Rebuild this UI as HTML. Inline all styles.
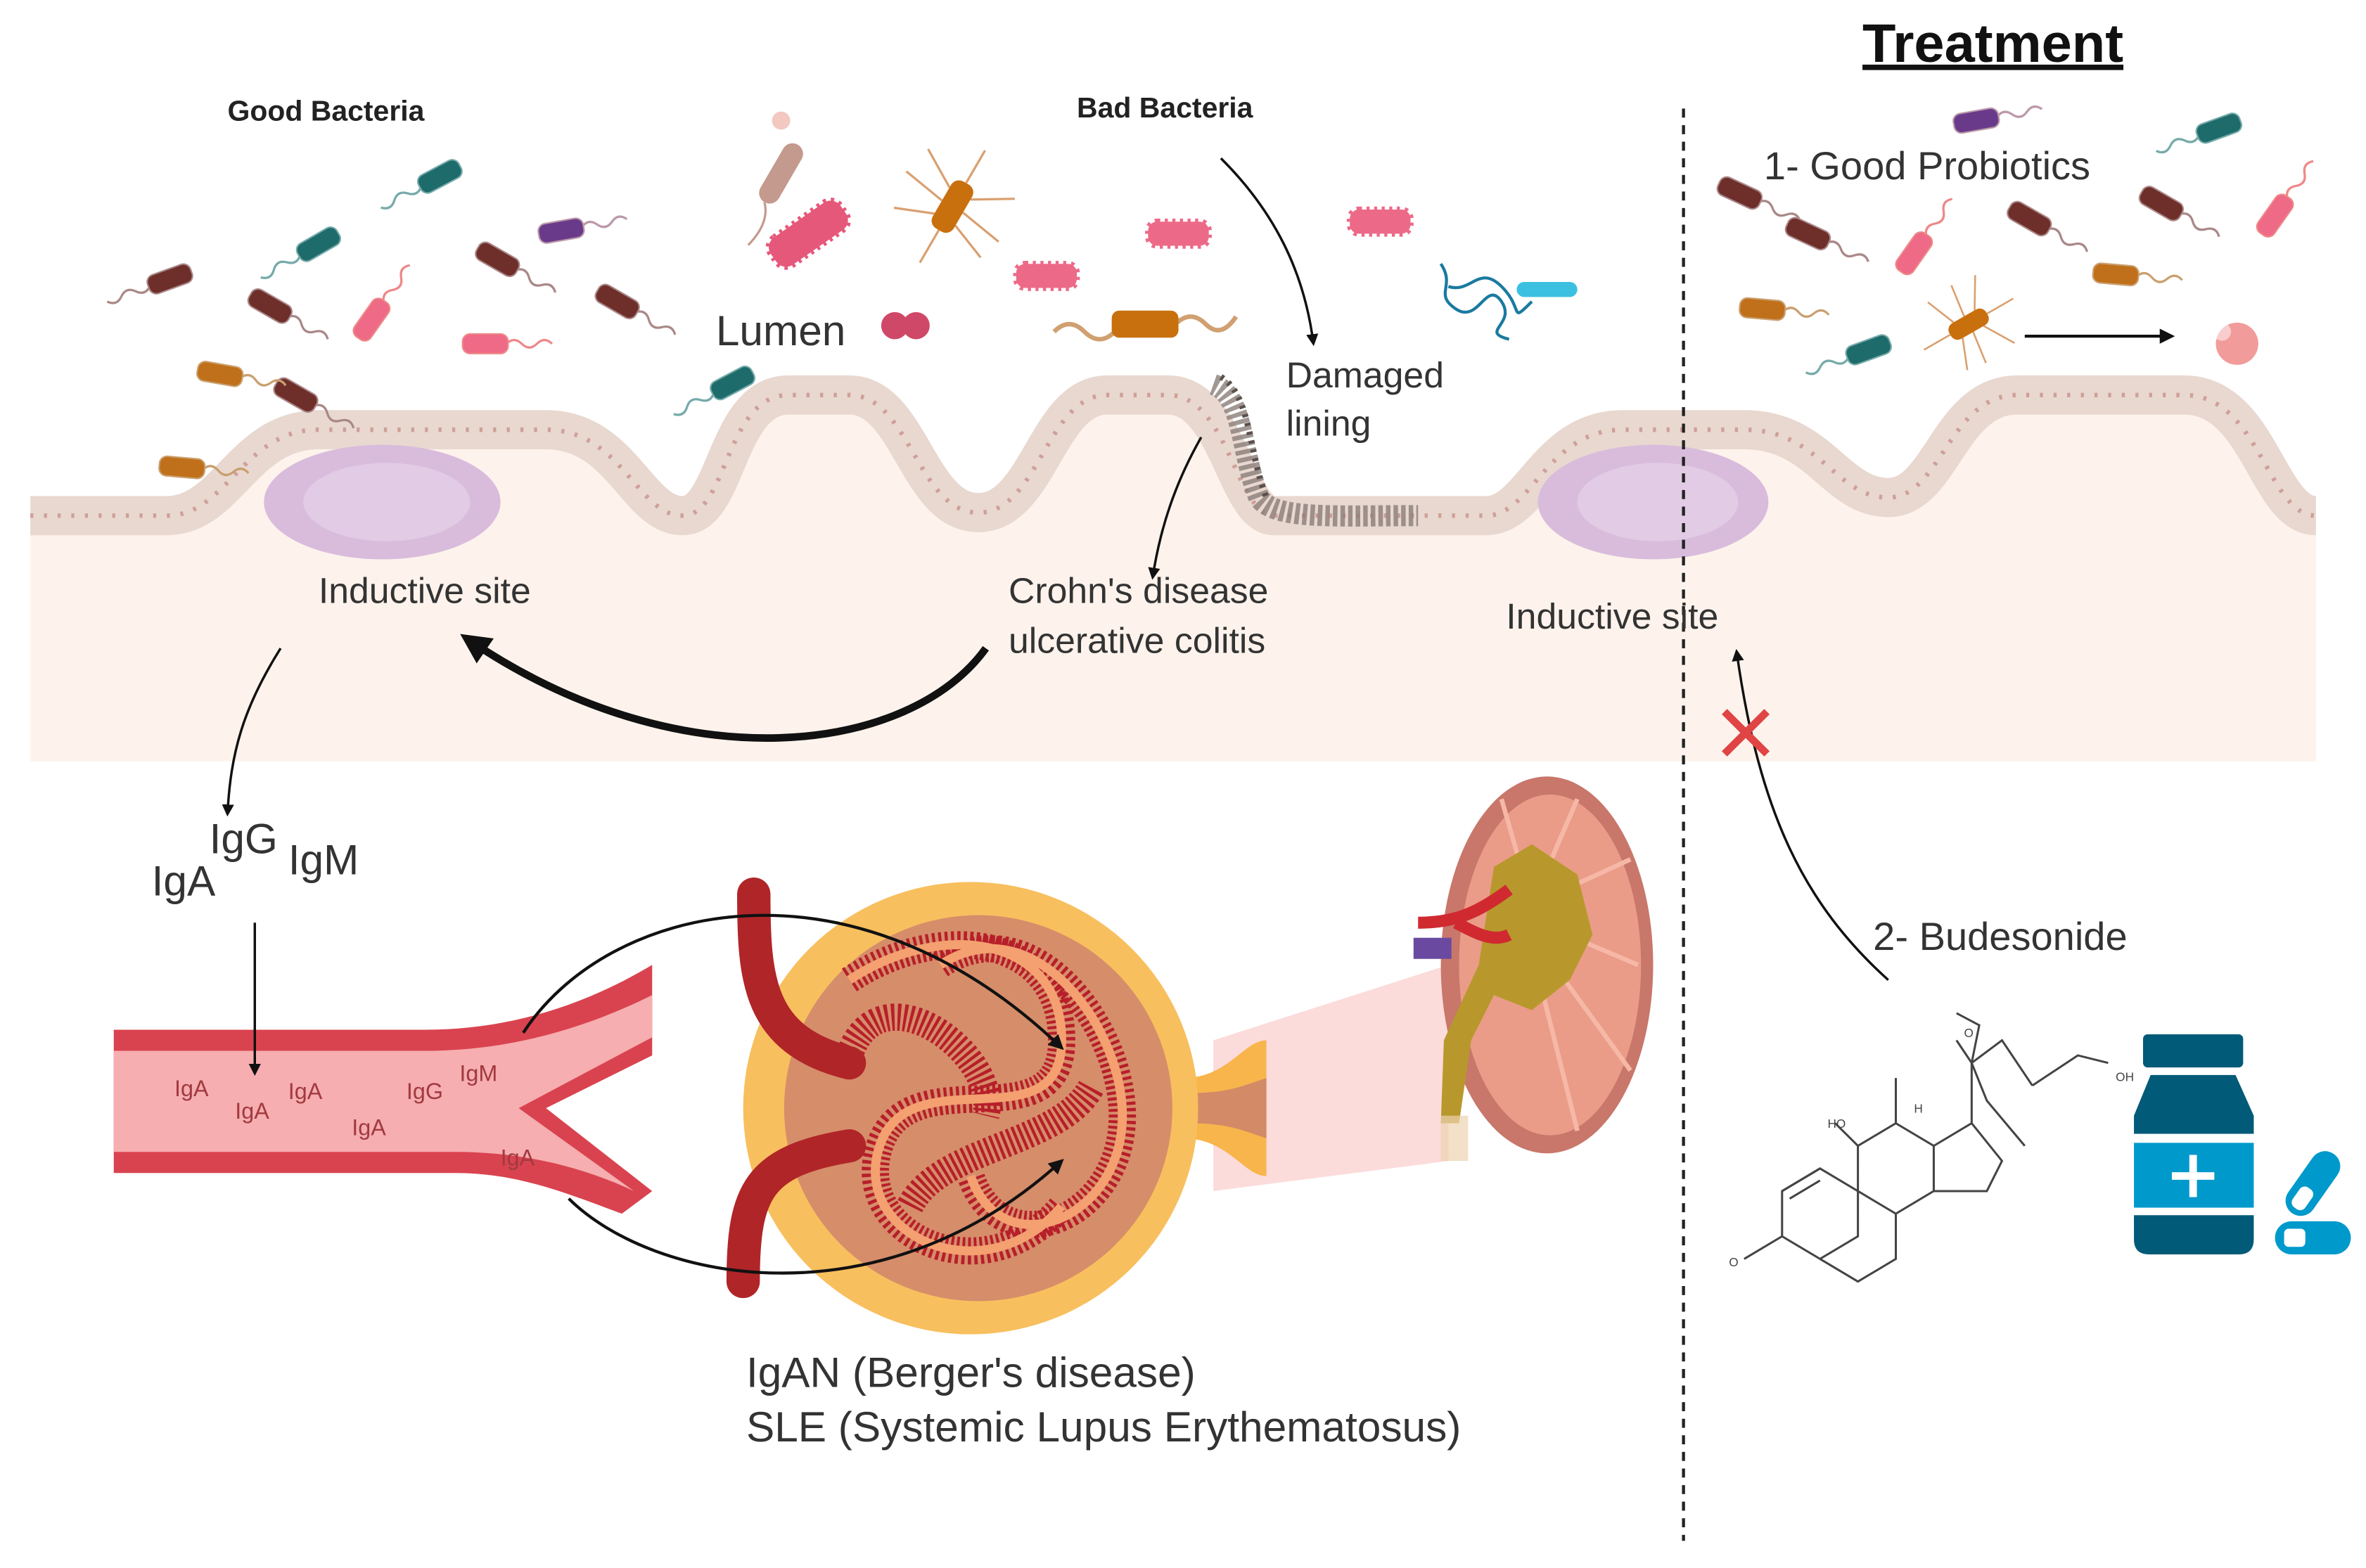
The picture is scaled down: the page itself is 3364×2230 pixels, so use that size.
<!DOCTYPE html>
<html><head><meta charset="utf-8"><style>
html,body{margin:0;padding:0;background:#fff;}
svg{display:block;}
text{font-family:"Liberation Sans",sans-serif;}
</style></head><body>
<svg width="3364" height="2230" viewBox="0 0 1560 1040" preserveAspectRatio="none" xmlns="http://www.w3.org/2000/svg">
<defs>
<marker id="ah" viewBox="0 0 10 10" refX="8" refY="5" markerWidth="5" markerHeight="5" orient="auto-start-reverse"><path d="M0,0 L10,5 L0,10 Z" fill="#111"/></marker>
<marker id="ahb" viewBox="0 0 10 10" refX="6" refY="5" markerWidth="4" markerHeight="4" orient="auto"><path d="M0,0 L10,5 L0,10 Z" fill="#111"/></marker>
<g id="bac"><path d="M14,0 q5,-5 10,0 t10,0 t10,0" fill="none" stroke-width="1.5"/><rect x="-15" y="-6.5" width="30" height="13" rx="5"/></g>
</defs>
<rect width="1560" height="1040" fill="#fff"/>

<!-- tissue -->
<path d="M20,342 H110 C150,342 160,285 210,285 H360 C410,285 420,342 450,342 C480,342 478,262 520,262 H560 C600,262 605,340 645,340 C685,340 690,262 730,262 H770 C810,262 815,342 840,342 H980 C1010,342 1020,285 1070,285 H1150 C1200,285 1210,330 1245,330 C1280,330 1285,262 1330,262 H1440 C1490,262 1495,342 1527,342 L1527,505 L20,505 Z" fill="#fdf3ec"/>
<path d="M20,342 H110 C150,342 160,285 210,285 H360 C410,285 420,342 450,342 C480,342 478,262 520,262 H560 C600,262 605,340 645,340 C685,340 690,262 730,262 H770 C810,262 815,342 840,342 H980 C1010,342 1020,285 1070,285 H1150 C1200,285 1210,330 1245,330 C1280,330 1285,262 1330,262 H1440 C1490,262 1495,342 1527,342" fill="none" stroke="#e8d8d0" stroke-width="26"/>
<path d="M20,342 H110 C150,342 160,285 210,285 H360 C410,285 420,342 450,342 C480,342 478,262 520,262 H560 C600,262 605,340 645,340 C685,340 690,262 730,262 H770 C810,262 815,342 840,342 H980 C1010,342 1020,285 1070,285 H1150 C1200,285 1210,330 1245,330 C1280,330 1285,262 1330,262 H1440 C1490,262 1495,342 1527,342" fill="none" stroke="#cf9f98" stroke-width="3" stroke-dasharray="2 7"/>
<!-- damaged -->
<path d="M800,255 C820,262 818,300 830,330 C840,345 880,342 935,342" fill="none" stroke="#8a7d78" stroke-width="14" stroke-dasharray="3 2" opacity="0.8"/>
<path d="M805,250 C825,262 823,300 835,330" fill="none" stroke="#5a504c" stroke-width="4" stroke-dasharray="2 4"/>
<!-- inductive sites -->
<ellipse cx="252" cy="333" rx="78" ry="38" fill="#d9bcdc"/><ellipse cx="255" cy="333" rx="55" ry="26" fill="#e2cbe4"/>
<ellipse cx="1090" cy="333" rx="76" ry="38" fill="#d9bcdc"/><ellipse cx="1093" cy="333" rx="53" ry="26" fill="#e2cbe4"/>

<!-- good bacteria -->
<g stroke="#7aa" fill="#1e6b6b"><use href="#bac" transform="translate(290,117) rotate(152)"/><use href="#bac" transform="translate(210,162) rotate(150)"/><use href="#bac" transform="translate(483,254) rotate(152)"/></g>
<g stroke="#a88" fill="#6e2e2a"><use href="#bac" transform="translate(112,185) rotate(160)"/><use href="#bac" transform="translate(178,203) rotate(30)"/><use href="#bac" transform="translate(328,172) rotate(30)"/><use href="#bac" transform="translate(407,200) rotate(30)"/><use href="#bac" transform="translate(195,262) rotate(30)"/></g>
<g stroke="#e88" fill="#ee6a86"><use href="#bac" transform="translate(245,212) rotate(-55)"/><use href="#bac" transform="translate(320,228) rotate(0)"/></g>
<g stroke="#b9a" fill="#6a3a8a"><use href="#bac" transform="translate(370,153) rotate(-10)"/></g>
<g stroke="#c9a070" fill="#c0701a"><use href="#bac" transform="translate(145,248) rotate(10)"/><use href="#bac" transform="translate(120,310) rotate(5)"/></g>

<!-- bad bacteria -->
<g transform="translate(533,155) rotate(-35)"><rect x="-28" y="-11" width="56" height="22" rx="8" fill="#e6587a" stroke="#e6587a" stroke-width="4" stroke-dasharray="2 3"/></g>
<g transform="translate(690,183)"><rect x="-20" y="-8" width="40" height="16" rx="6" fill="#ec6a88" stroke="#ec6a88" stroke-width="4" stroke-dasharray="2 3"/></g>
<g transform="translate(777,155)"><rect x="-20" y="-8" width="40" height="16" rx="6" fill="#ec6a88" stroke="#ec6a88" stroke-width="4" stroke-dasharray="2 3"/></g>
<g transform="translate(910,147)"><rect x="-20" y="-8" width="40" height="16" rx="6" fill="#ec6a88" stroke="#ec6a88" stroke-width="4" stroke-dasharray="2 3"/></g>
<g transform="translate(628,137) rotate(-60)" stroke="#d9a070" stroke-width="1.5" fill="none"><path d="M-10,-8 l-10,-25 M0,-8 l5,-30 M10,-8 l15,-25 M-10,8 l-10,25 M0,8 l-5,30 M10,8 l15,25 M-18,0 h-25 M18,0 h25"/><rect x="-18" y="-8" width="36" height="16" rx="6" fill="#c8700e" stroke="none"/></g>
<g transform="translate(515,115) rotate(-60)"><rect x="-22" y="-7" width="44" height="14" rx="7" fill="#c49a8e"/><path d="M-22,0 q-10,10 -30,5" stroke="#c49a8e" fill="none" stroke-width="1.5"/></g>
<circle cx="515" cy="80" r="6" fill="#f2c8c0"/>
<g transform="translate(755,215)"><path d="M-60,5 q10,-10 20,0 t20,0 M20,0 q10,-10 20,0 t20,-5" stroke="#d0a070" fill="none" stroke-width="3"/><rect x="-22" y="-9" width="44" height="18" rx="5" fill="#c8700e"/></g>
<g fill="#d04868"><circle cx="590" cy="216" r="9"/><circle cx="604" cy="216" r="9"/></g>
<g transform="translate(990,200)" stroke="#1a7aa0" stroke-width="2" fill="none"><path d="M-40,-25 c10,15 -5,20 10,30 s20,-20 30,-5 s-15,20 5,25 M-35,-10 c15,5 20,-15 35,0 s5,25 20,10"/><path d="M15,-8 h30" stroke="#3bc0e0" stroke-width="10" stroke-linecap="round"/></g>

<!-- treatment bacteria -->
<g stroke="#b9a" fill="#6a3a8a"><use href="#bac" transform="translate(1303,80) rotate(-10)"/></g>
<g stroke="#7aa" fill="#1e6b6b"><use href="#bac" transform="translate(1463,85) rotate(160)"/><use href="#bac" transform="translate(1232,232) rotate(160)"/></g>
<g stroke="#a88" fill="#6e2e2a"><use href="#bac" transform="translate(1147,128) rotate(25)"/><use href="#bac" transform="translate(1192,155) rotate(25)"/><use href="#bac" transform="translate(1338,145) rotate(30)"/><use href="#bac" transform="translate(1425,135) rotate(30)"/></g>
<g stroke="#e88" fill="#ee6a86"><use href="#bac" transform="translate(1262,168) rotate(-55)"/><use href="#bac" transform="translate(1500,143) rotate(-55)"/></g>
<g stroke="#c9a070" fill="#c0701a"><use href="#bac" transform="translate(1162,205) rotate(5)"/><use href="#bac" transform="translate(1395,182) rotate(5)"/></g>
<g transform="translate(1298,215) rotate(-30)" stroke="#d9a070" stroke-width="1.2" fill="none"><path d="M-8,-6 l-8,-20 M0,-6 l3,-22 M8,-6 l12,-20 M-8,6 l-8,20 M0,6 l-3,22 M8,6 l12,20 M-14,0 h-20 M14,0 h20"/><rect x="-14" y="-6" width="28" height="12" rx="5" fill="#c8700e" stroke="none"/></g>
<line x1="1335" y1="223" x2="1432" y2="223" stroke="#111" stroke-width="2" marker-end="url(#ah)"/>
<g fill="#f08a8a" opacity="0.85"><circle cx="1475" cy="228" r="14"/><circle cx="1465" cy="220" r="6" fill="#fff" opacity="0.5"/></g>

<!-- dashed divider -->
<line x1="1110" y1="72" x2="1110" y2="1022" stroke="#222" stroke-width="2" stroke-dasharray="6 5"/>

<!-- labels top -->
<text x="150" y="80" font-size="19" font-weight="bold" fill="#222">Good Bacteria</text>
<text x="710" y="78" font-size="19" font-weight="bold" fill="#222">Bad Bacteria</text>
<text x="1228" y="41" font-size="36" font-weight="bold" fill="#111" text-decoration="underline">Treatment</text>
<text x="1163" y="119" font-size="26" fill="#333">1- Good Probiotics</text>
<text x="472" y="229" font-size="28" fill="#333">Lumen</text>
<text x="848" y="257" font-size="24" fill="#333">Damaged</text>
<text x="848" y="289" font-size="24" fill="#333">lining</text>
<text x="210" y="400" font-size="24" fill="#333">Inductive site</text>
<text x="665" y="400" font-size="24" fill="#333">Crohn's disease</text>
<text x="665" y="433" font-size="24" fill="#333">ulcerative colitis</text>
<text x="993" y="417" font-size="24" fill="#333">Inductive site</text>
<text x="1235" y="630" font-size="26" fill="#333">2- Budesonide</text>

<!-- arrows top -->
<path d="M805,105 C840,140 860,180 866,228" fill="none" stroke="#111" stroke-width="1.6" marker-end="url(#ah)"/>
<path d="M792,290 C775,320 765,350 760,383" fill="none" stroke="#111" stroke-width="1.6" marker-end="url(#ah)"/>
<path d="M650,430 C600,500 450,520 310,425" fill="none" stroke="#111" stroke-width="5" marker-end="url(#ahb)"/>
<path d="M185,430 C160,470 152,500 150,540" fill="none" stroke="#111" stroke-width="1.6" marker-end="url(#ah)"/>
<path d="M1245,650 C1190,600 1160,540 1145,432" fill="none" stroke="#111" stroke-width="1.6" marker-end="url(#ah)"/>
<path d="M1137,472 L1165,500 M1165,472 L1137,500" stroke="#e04444" stroke-width="5"/>

<text x="100" y="594" font-size="28" fill="#333">IgA</text>
<text x="138" y="566" font-size="28" fill="#333">IgG</text>
<text x="190" y="580" font-size="28" fill="#333">IgM</text>

<!-- blood vessel -->
<path d="M75,683 L280,683 C330,683 380,670 430,640 L430,700 L360,735 L430,790 L410,805 C370,790 340,778 300,778 L75,778 Z" fill="#d9434f"/>
<path d="M75,697 L280,697 C330,697 380,685 430,660 L430,688 L342,735 L418,790 C380,772 340,764 300,764 L75,764 Z" fill="#f6aeb0"/>
<g font-size="15" fill="#a23a40"><text x="115" y="727">IgA</text><text x="155" y="742">IgA</text><text x="190" y="729">IgA</text><text x="232" y="753">IgA</text><text x="268" y="729">IgG</text><text x="303" y="717">IgM</text><text x="330" y="773">IgA</text></g>
<line x1="168" y1="612" x2="168" y2="712" stroke="#111" stroke-width="1.6" marker-end="url(#ah)"/>

<!-- glomerulus -->
<path d="M800,690 L955,640 L955,770 L800,790 Z" fill="#fbd2d2" opacity="0.8"/>
<path d="M780,715 C810,715 820,690 835,690 L835,780 C820,780 810,755 780,755 Z" fill="#f8b54c"/>
<path d="M785,725 C810,725 820,720 835,715 L835,755 C820,750 810,745 785,745 Z" fill="#d38a66"/>
<circle cx="640" cy="735" r="150" fill="#f8bf5e"/>
<circle cx="645" cy="735" r="128" fill="#d68d6a"/>
<g fill="none" stroke="#b71f2a" stroke-width="18" stroke-dasharray="2 2">
<path d="M560,650 C620,610 700,620 700,690 C700,760 600,700 580,760 C560,820 650,860 700,800"/>
<path d="M620,640 C680,600 740,680 740,740 C740,810 660,840 640,780"/>
<path d="M560,700 C580,640 660,700 650,740"/>
<path d="M600,800 C620,760 700,760 720,720"/>
</g>
<g fill="none" stroke="#f4a070" stroke-width="6"><path d="M560,650 C620,610 700,620 700,690 C700,760 600,700 580,760 C560,820 650,860 700,800"/><path d="M620,640 C680,600 740,680 740,740 C740,810 660,840 640,780"/></g>
<path d="M497,593 C497,650 500,690 560,705" fill="none" stroke="#b02528" stroke-width="22" stroke-linecap="round"/>
<path d="M490,850 C490,790 500,770 560,760" fill="none" stroke="#b02528" stroke-width="22" stroke-linecap="round"/>
<path d="M345,685 C400,600 560,560 700,695" fill="none" stroke="#111" stroke-width="2" marker-end="url(#ah)"/>
<path d="M375,795 C430,850 580,880 700,770" fill="none" stroke="#111" stroke-width="2" marker-end="url(#ah)"/>

<!-- kidney -->
<ellipse cx="1020" cy="640" rx="70" ry="125" fill="#c8776a"/>
<ellipse cx="1022" cy="640" rx="60" ry="113" fill="#ea9c88"/>
<g stroke="#f6b8a6" stroke-width="3"><path d="M1010,600 L1040,530 M1010,600 L1075,570 M1010,610 L1080,640 M1010,620 L1075,710 M1010,630 L1040,750 M1010,600 L990,530"/></g>
<path d="M985,575 L1010,560 L1040,580 L1050,620 L1035,650 L1010,670 L985,660 L970,690 L962,745 L950,745 L952,690 L975,640 Z" fill="#b8982c"/>
<path d="M935,612 C960,612 975,605 995,590 M960,612 C975,620 985,625 995,620" fill="none" stroke="#d02a30" stroke-width="8"/>
<rect x="932" y="622" width="25" height="14" fill="#6a4aa0"/>
<rect x="950" y="740" width="18" height="30" fill="#ecd3b0" opacity="0.7"/>

<!-- molecule -->
<g fill="none" stroke="#444" stroke-width="1.4">
<path d="M1150,835 L1175,820 L1175,790 L1200,775 L1225,790 L1225,820 L1200,835 L1175,820 M1225,790 L1225,760 L1250,745 L1275,760 L1275,790 L1250,805 L1225,790 M1200,835 L1225,850 L1250,835 L1250,805 M1250,745 L1250,715 M1275,760 L1300,745 L1300,705 L1290,690 M1300,745 L1320,770 L1310,790 L1275,790 M1300,705 L1320,690 L1340,720 M1340,720 L1370,700 L1390,705 M1300,705 L1305,680 L1290,672 M1225,760 L1210,745 M1300,705 L1310,730 L1335,760"/>
<path d="M1175,790 L1200,775 M1180,795 L1200,783" />
</g>
<g font-size="8" fill="#444"><text x="1205" y="748">HO</text><text x="1262" y="738">H</text><text x="1395" y="717">OH</text><text x="1295" y="688">O</text><text x="1140" y="840">O</text></g>

<!-- bottle & pills -->
<rect x="1413" y="686" width="66" height="22" rx="3" fill="#005a78"/>
<path d="M1418,713 H1474 L1486,740 V752 H1407 V740 Z" fill="#005a78"/>
<rect x="1407" y="758" width="79" height="43" fill="#0099cc"/>
<path d="M1446,766 V794 M1432,780 H1460" stroke="#fff" stroke-width="5"/>
<path d="M1407,806 H1486 V822 Q1486,832 1476,832 H1417 Q1407,832 1407,822 Z" fill="#005a78"/>
<g transform="translate(1525,785) rotate(-55)"><rect x="-24" y="-10" width="48" height="20" rx="10" fill="#0099cc"/><rect x="-20" y="-5" width="16" height="10" rx="4" fill="#fff"/></g>
<rect x="1500" y="810" width="50" height="22" rx="11" fill="#0099cc"/><rect x="1506" y="815" width="14" height="12" rx="3" fill="#fff"/>

<!-- bottom labels -->
<text x="492" y="920" font-size="28" fill="#333">IgAN (Berger's disease)</text>
<text x="492" y="956" font-size="28" fill="#333">SLE (Systemic Lupus Erythematosus)</text>
</svg>
</body></html>
